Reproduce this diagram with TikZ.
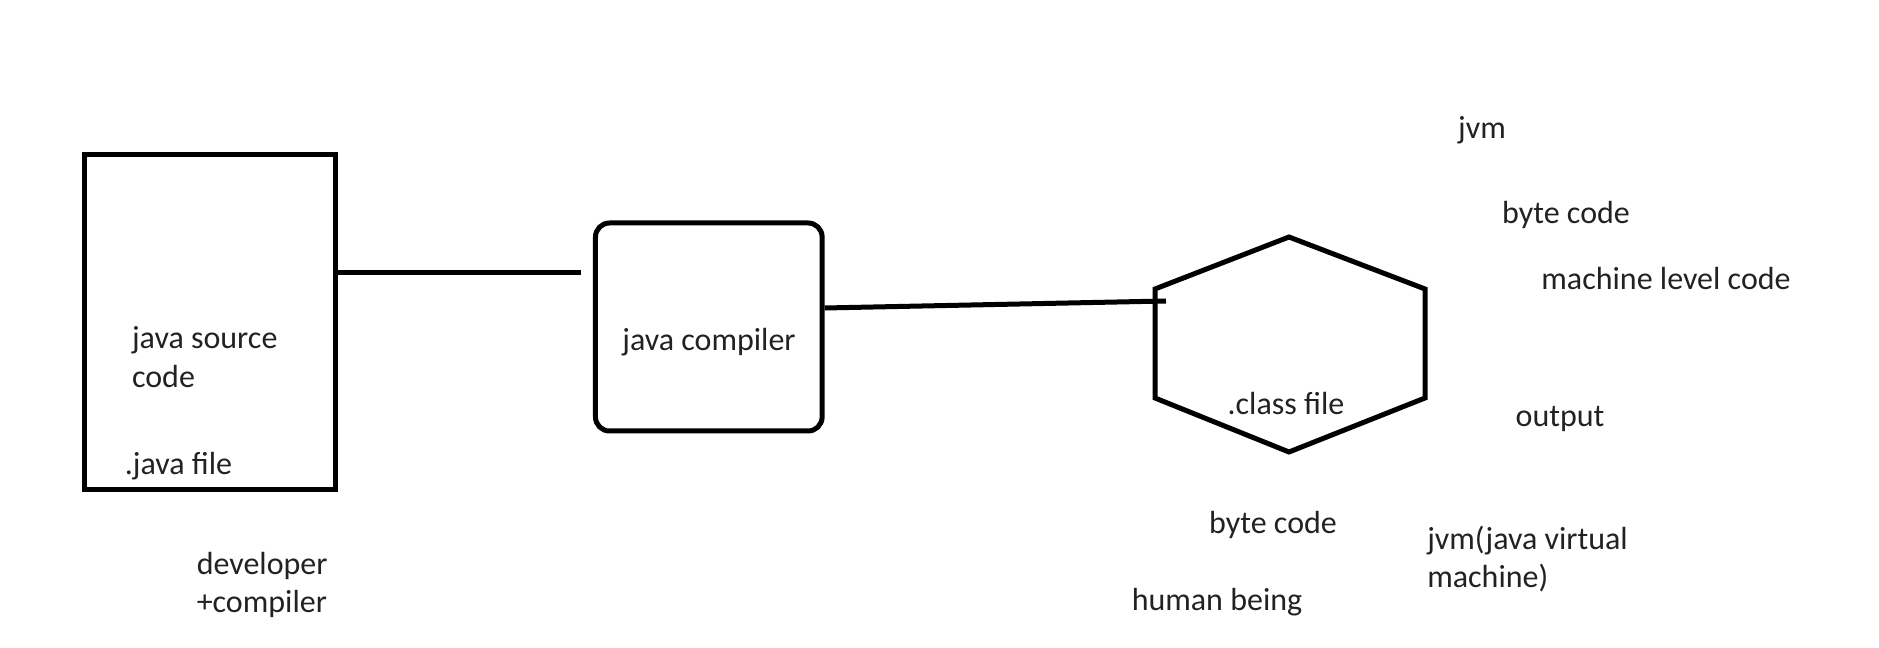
\documentclass[tikz,border=0pt]{standalone}
\usepackage{fontspec}
\setmainfont{Carlito}
\usetikzlibrary{positioning}
\definecolor{cText}{RGB}{34,34,34}
\tikzset{
	srcbox/.style ={rectangle, draw=black, line width=3.75pt, minimum width=188.6pt, minimum height=251pt},
	compbox/.style={rectangle, rounded corners=10.5pt, draw=black, line width=3.75pt, minimum width=170pt, minimum height=156pt},
	lbl/.style    ={font=\fontsize{24}{29}\selectfont, text=cText, inner sep=0pt, align=left},
	link/.style   ={line width=3.75pt},
}
\begin{document}
\begin{tikzpicture}[x=0.75pt, y=-0.75pt]
	\useasboundingbox (0,0) rectangle (1879,648);
	% blocks
	\node[srcbox] (src) at (209.8,322) {};
	\node[compbox] (comp) at (708.8,327) {};
	\coordinate (hexL) at (1155,289);
	\coordinate (hexT) at (1289,237);
	\coordinate (hexR) at (1425,289);
	\coordinate (hexRB) at (1425,398);
	\coordinate (hexB) at (1289,452);
	\coordinate (hexLB) at (1155,398);
	\draw[link, line join=miter] (hexL) -- (hexT) -- (hexR) -- (hexRB) -- (hexB) -- (hexLB) -- cycle;
	% texts
	\node[lbl, anchor=west] (srctxt) at (131.8,357) {java source\\code};
	\node[lbl, anchor=west] (srcfile) at (124.6,466) {.java file};
	\node[lbl] (comptxt) at (709,342) {java compiler};
	\node[lbl] (clstxt) at (1286,404) {.class file};
	\node[lbl] (jvm) at (1482,130) {jvm};
	\node[lbl] (byteA) at (1566,215) {byte code};
	\node[lbl] (mlc) at (1666,279) {machine level code};
	\node[lbl] (out) at (1560,419) {output};
	\node[lbl] (byteB) at (1273,525) {byte code};
	\node[lbl, anchor=west] (jvmfull) at (1427,559) {jvm(java virtual\\machine)};
	\node[lbl] (human) at (1217,602) {human being};
	\node[lbl, anchor=west] (dev) at (196.5,585) {developer\\+compiler};
	% connectors
	\coordinate (gapA) at (581,273);
	\coordinate (hexIn) at (1166,301);
	\draw[link] (src.east |- gapA) -- (gapA);
	\draw[link] ([yshift=14.25pt]comp.east) -- (hexIn);
\end{tikzpicture}
\end{document}
